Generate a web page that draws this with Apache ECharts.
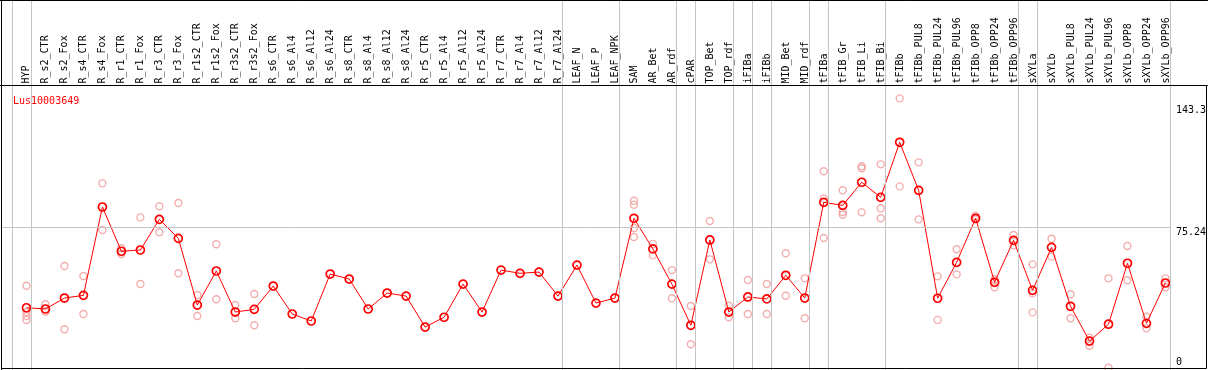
<!DOCTYPE html>
<html>
<head>
<meta charset="utf-8">
<script src="https://cdn.jsdelivr.net/npm/echarts@6/dist/echarts.min.js"></script>
<style>
html,body{margin:0;padding:0;background:#fff;}
#chart{width:1209px;height:370px;}
</style>
</head>
<body>
<div id="chart"></div>
<script>
const geneId = 'Lus10003649';

const categories = ['HYP','R_s2_CTR','R_s2_Fox','R_s4_CTR','R_s4_Fox','R_r1_CTR','R_r1_Fox','R_r3_CTR','R_r3_Fox',
  'R_r1s2_CTR','R_r1s2_Fox','R_r3s2_CTR','R_r3s2_Fox','R_s6_CTR','R_s6_Al4','R_s6_Al12','R_s6_Al24',
  'R_s8_CTR','R_s8_Al4','R_s8_Al12','R_s8_Al24','R_r5_CTR','R_r5_Al4','R_r5_Al12','R_r5_Al24',
  'R_r7_CTR','R_r7_Al4','R_r7_Al12','R_r7_Al24','LEAF_N','LEAF_P','LEAF_NPK','SAM','AR_Bet','AR_rdf',
  'cPAR','TOP_Bet','TOP_rdf','iFIBa','iFIBb','MID_Bet','MID_rdf','tFIBa','tFIB_Gr','tFIB_Li','tFIB_Bi',
  'tFIBb','tFIBb_PUL8','tFIBb_PUL24','tFIBb_PUL96','tFIBb_OPP8','tFIBb_OPP24','tFIBb_OPP96',
  'sXYLa','sXYLb','sXYLb_PUL8','sXYLb_PUL24','sXYLb_PUL96','sXYLb_OPP8','sXYLb_OPP24','sXYLb_OPP96'];

const means = [30.5, 29.8, 35.9, 37.4, 86.7, 62.0, 62.7, 79.8, 69.2, 32.0, 51.0, 28.1, 29.6,
  42.6, 27.0, 23.1, 49.3, 46.5, 29.8, 38.7, 37.0,
  19.7, 25.2, 43.7, 28.1, 51.5, 49.7, 50.4, 37.0,
  54.3, 33.1, 35.9,
  80.4, 63.3, 43.7, 20.7, 68.3, 28.1, 36.5, 35.4, 48.6, 35.9,
  89.3, 87.6, 100.5, 92.1, 122.8, 96.0, 35.8, 55.8, 80.4, 44.7, 68.1,
  40.2, 64.2, 31.3, 11.9, 21.3, 55.3, 21.8, 44.3];

const replicates = [
  [42.8, 28.1, 25.9, 23.7], [32.4, 28.3], [53.8, 18.5], [48.2, 27.0], [99.9, 73.9],
  [63.7, 60.5], [80.9, 43.7], [87.1, 72.6], [88.9, 49.7], [37.6, 25.9], [65.9, 35.2],
  [32.0, 24.6], [38.2, 20.7],
  [], [], [], [], [], [], [], [], [], [], [], [], [], [], [], [], [], [], [],
  [90.2, 88.0, 75.0, 70.0], [66.1, 59.7], [51.5, 35.8], [31.5, 10.1], [78.9, 57.5],
  [31.6, 25.2], [46.0, 27.0], [43.7, 27.0], [60.9, 37.2], [46.9, 24.6],
  [106.6, 91.5, 69.4], [96.0, 83.9, 82.4], [109.4, 108.3, 83.7], [110.5, 86.0, 80.4],
  [147.3, 98.2], [111.6, 79.8], [48.0, 23.7], [63.1, 49.1], [81.7, 79.8], [46.4, 41.9], [71.1, 65.3],
  [54.7, 38.5, 27.9], [69.0, 59.0], [38.0, 24.6], [13.8, 9.3], [46.9, -3.0], [64.9, 45.8],
  [25.5, 19.0], [46.9, 41.9]
];

const yTickLabels = [143.3, 75.24];
const yZeroLabel = [0];
const refValue = 75.24;
// index of last category in each group (separator drawn after it)
const groupEnds = [-1, 0, 28, 31, 34, 35, 37, 38, 39, 41, 42, 45, 52, 53, 60];

// ---- layout (pixel geometry) ----
const W = 1209, H = 370;
const X0 = 26.5, DX = 19;      // pixel x of category 0, spacing
const Y0 = 362.4, KY = 1.7925; // pixel y of value 0, px per unit
const xv = px => (px - X0) / DX;
const yv = py => (Y0 - py) / KY;
const HEADER = 85.5;

const FONT = 'DejaVu Sans Mono';

const lineData = means.map((v, i) => [i, v]);
const scatterData = [];
replicates.forEach((arr, i) => arr.forEach(v => scatterData.push([i, v])));

const sepLines = groupEnds.map(k => ({ xAxis: k + 0.25 }));
const grayLines = sepLines.concat([
  [{ coord: [xv(1.5), refValue] }, { coord: [groupEnds[groupEnds.length - 1] + 0.25, refValue] }]
]);
const blackLines = [
  { yAxis: yv(0.5) },
  { yAxis: yv(HEADER) },
  { xAxis: xv(1.5) },
  [{ coord: [xv(1.5), yv(368.5)] }, { coord: [xv(1207.5), yv(368.5)] }],
  [{ coord: [xv(1207.5), yv(HEADER)] }, { coord: [xv(1207.5), yv(368.5)] }]
];

const chart = echarts.init(document.getElementById('chart'), null, { renderer: 'canvas' });
const yBase = {
  type: 'value', gridIndex: 0, position: 'right',
  min: yv(H), max: yv(0),
  splitLine: { show: false }, axisLine: { show: false }, axisTick: { show: false }
};
chart.setOption({
  animation: false,
  backgroundColor: '#fff',
  title: {
    text: geneId, left: 8, top: 91,
    textStyle: { color: '#ff0000', fontSize: 10, fontWeight: 'normal', fontFamily: FONT }
  },
  grid: [
    { left: 0, right: 0, top: 0, bottom: 0 },
    { left: X0 - DX / 2, right: W - (X0 + DX * (categories.length - 0.5)), top: HEADER, bottom: 1.5 }
  ],
  xAxis: [
    { type: 'value', gridIndex: 0, min: xv(0), max: xv(W), show: false },
    {
      type: 'category', gridIndex: 1, position: 'top', data: categories,
      boundaryGap: true,
      axisLine: { show: false }, axisTick: { show: false }, splitLine: { show: false },
      axisLabel: { interval: 0, rotate: 90, margin: 2, fontSize: 10, fontFamily: FONT, color: '#000' }
    }
  ],
  yAxis: [
    Object.assign({}, yBase, {
      axisLabel: {
        customValues: yTickLabels, inside: true, align: 'left', verticalAlign: 'top',
        margin: W - 1177, fontSize: 10, fontFamily: FONT, color: '#000',
        formatter: v => String(v)
      }
    }),
    Object.assign({}, yBase, {
      axisLabel: {
        customValues: yZeroLabel, inside: true, align: 'left', verticalAlign: 'middle',
        margin: W - 1177, fontSize: 10, fontFamily: FONT, color: '#000',
        formatter: v => String(v)
      }
    }),
    { type: 'value', gridIndex: 1, show: false, min: 0, max: 1 }
  ],
  series: [
    {
      type: 'line', xAxisIndex: 0, yAxisIndex: 0, data: [], silent: true,
      markLine: {
        silent: true, symbol: ['none', 'none'], label: { show: false },
        lineStyle: { color: '#c4c4c4', width: 1, type: 'solid' },
        emphasis: { disabled: true },
        data: grayLines
      },
      z: 1
    },
    {
      type: 'scatter', xAxisIndex: 0, yAxisIndex: 0, data: scatterData,
      symbol: 'circle', symbolSize: 7, clip: false, silent: true,
      itemStyle: { color: 'rgba(255,255,255,0)', borderColor: '#f09a9a', borderWidth: 1.4 },
      z: 2
    },
    {
      type: 'line', xAxisIndex: 0, yAxisIndex: 0, data: lineData,
      symbol: 'circle', symbolSize: 8, showSymbol: true, silent: true,
      lineStyle: { color: '#ff0000', width: 1 },
      itemStyle: { color: 'rgba(255,255,255,0)', borderColor: '#ff0000', borderWidth: 1.7 },
      z: 3
    },
    {
      type: 'line', xAxisIndex: 0, yAxisIndex: 0, data: [], silent: true,
      markLine: {
        silent: true, symbol: ['none', 'none'], label: { show: false },
        lineStyle: { color: '#000', width: 1, type: 'solid' },
        emphasis: { disabled: true },
        data: blackLines
      },
      z: 4
    },
    { type: 'line', xAxisIndex: 1, yAxisIndex: 2, data: [] }
  ]
});
</script>
</body>
</html>
